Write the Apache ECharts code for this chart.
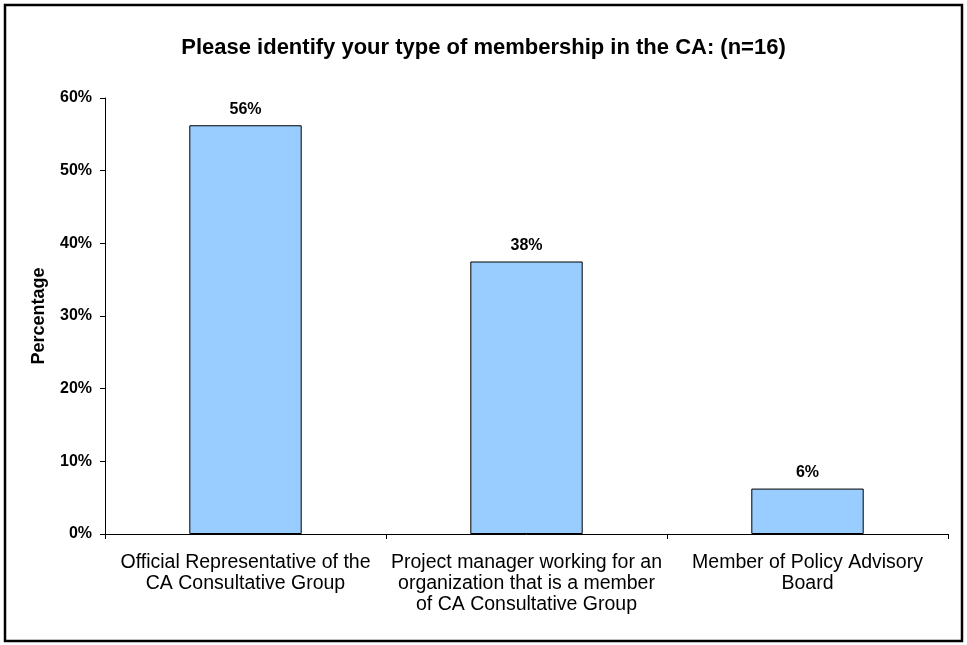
<!DOCTYPE html>
<html>
<head>
<meta charset="utf-8">
<script src="https://cdn.jsdelivr.net/npm/echarts@6/dist/echarts.min.js"></script>
<style>
  html, body { margin: 0; padding: 0; background: #fff; }
  #chart { width: 967px; height: 645px; }
</style>
</head>
<body>
<div id="chart"></div>
<script>
// membership types and share of respondents (n=16)
const categories = [
  'Official Representative of the\nCA Consultative Group',
  'Project manager working for an\norganization that is a member\nof CA Consultative Group',
  'Member of Policy Advisory\nBoard'
];
const shares = [0.5625, 0.375, 0.0625];
const yTicks = [0, 0.1, 0.2, 0.3, 0.4, 0.5, 0.6];

const font = 'Liberation Sans, Arial, sans-serif';
const chart = echarts.init(document.getElementById('chart'));

const options = {
  backgroundColor: '#fff',
  animation: false,
  title: {
    text: 'Please identify your type of membership in the CA: (n=16)',
    left: 'center',
    top: 32,
    textStyle: { fontFamily: font, fontSize: 22, fontWeight: 'bold', color: '#000' }
  },
  graphic: [{
    type: 'rect',
    shape: { x: 5, y: 5, width: 957, height: 636 },
    style: { fill: 'none', stroke: '#000', lineWidth: 2.5 }
  }],
  grid: { left: 105, right: 19, top: 98, bottom: 111 },
  xAxis: {
    type: 'category',
    data: categories,
    axisLine: { lineStyle: { color: '#000', width: 1 } },
    axisTick: { show: true, length: 5, lineStyle: { color: '#000' } },
    axisLabel: {
      color: '#000', fontFamily: font, fontSize: 19.5, lineHeight: 21,
      margin: 18, interval: 0
    }
  },
  yAxis: {
    type: 'value',
    min: yTicks[0],
    max: yTicks[yTicks.length - 1],
    interval: 0.1,
    name: 'Percentage',
    nameLocation: 'middle',
    nameGap: 57,
    nameTextStyle: { fontFamily: font, fontSize: 18, fontWeight: 'bold', color: '#000' },
    axisLine: { show: true, lineStyle: { color: '#000', width: 1 } },
    axisTick: { show: true, length: 5, lineStyle: { color: '#000' } },
    splitLine: { show: false },
    axisLabel: {
      color: '#000', fontFamily: font, fontSize: 16, fontWeight: 'bold', margin: 13,
      formatter: v => Math.round(v * 100) + '%'
    }
  },
  series: [{
    type: 'bar',
    data: shares,
    barCategoryGap: '60%',
    itemStyle: { color: '#99CCFF', borderColor: '#000', borderWidth: 1 },
    label: {
      show: true,
      position: 'top',
      distance: 8,
      color: '#000', fontFamily: font, fontSize: 16, fontWeight: 'bold',
      formatter: p => Math.round(p.value * 100) + '%'
    }
  }]
};

chart.setOption(options, true);
</script>
</body>
</html>
